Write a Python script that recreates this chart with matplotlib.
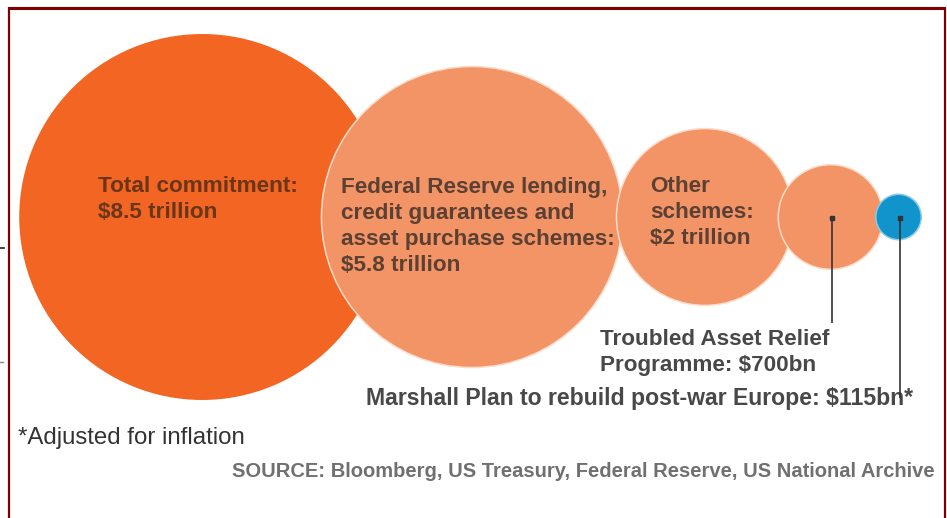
import matplotlib
matplotlib.use("Agg")
import matplotlib.pyplot as plt
from matplotlib.patches import Circle
import numpy as np

# ---- data (USD trillion) ----
names = ["Total commitment", "Federal Reserve", "Other schemes", "TARP", "Marshall Plan"]
values = [8.5, 5.8, 2.0, 0.7, 0.115]
labels = [
    "Total commitment:\n$8.5 trillion",
    "Federal Reserve lending,\ncredit guarantees and\nasset purchase schemes:\n$5.8 trillion",
    "Other\nschemes:\n$2 trillion",
    "Troubled Asset Relief\nProgramme: $700bn",
    "Marshall Plan to rebuild post-war Europe: $115bn*",
]
footnote = "*Adjusted for inflation"
source = "SOURCE: Bloomberg, US Treasury, Federal Reserve, US National Archive"

# ---- style ----
fill = ["#F26522", "#F39466", "#F39466", "#F39466", "#1193CB"]
edge = ["#F26522", "#FCDCC8", "#FCDCC8", "#FCDCC8", "#8CCBE8"]
text_in = ["#6A3519", "#5B4033", "#5B4033"]
overlap = [63, 6, 15, 7]      # px each circle pushes into the previous one
scale = 62.5                  # radius px per sqrt(trillion)
cy = 217
left = 20
fam = ["Liberation Sans", "DejaVu Sans"]

W, H = 947, 518
fig = plt.figure(figsize=(W / 100, H / 100), dpi=100)
ax = fig.add_axes([0, 0, 1, 1])
ax.set_xlim(0, W)
ax.set_ylim(H, 0)
ax.axis("off")

radii = scale * np.sqrt(values)
radii[-1] += 1.5  # the blue dot reads a touch larger than strict area scaling
cx = [left + radii[0]]
for i in range(1, len(values)):
    cx.append(cx[-1] + radii[i - 1] + radii[i] - overlap[i - 1])

for i, (x, r) in enumerate(zip(cx, radii)):
    ax.add_patch(Circle((x, cy), r, facecolor=fill[i], edgecolor=edge[i],
                        linewidth=1.1, zorder=2 + i))

font = dict(family=fam, fontsize=16.2, fontweight="bold", linespacing=1.32)

# labels inside the three big circles
ax.text(98, 176, labels[0], color=text_in[0], va="top", ha="left", zorder=10, **font)
ax.text(341, 177, labels[1], color=text_in[1], va="top", ha="left", zorder=10, **font)
ax.text(650, 176, labels[2], color=text_in[2], va="top", ha="left", zorder=10, **font)

# leader lines for the two small ones
ends = [323, 398]
for x, y_end in zip(cx[3:], ends):
    ax.plot([x + 1, x + 1], [cy + 1, y_end], color="#333333", lw=1.2,
            solid_capstyle="butt", zorder=11)
    ax.plot([x + 1], [cy + 1], marker="s", ms=3.5, color="#333333", zorder=12)

ax.text(600, 329, labels[3], color="#484848", va="top", ha="left", zorder=10, **font)
ax.text(366, 405, labels[4], color="#484848", va="baseline", ha="left", zorder=10,
        family=fam, fontsize=16.55, fontweight="bold")

ax.text(18, 444, footnote, color="#333333", va="baseline", ha="left",
        family=fam, fontsize=17.3)
ax.text(232, 477, source, color="#707070", va="baseline", ha="left",
        family=fam, fontsize=14.5, fontweight="bold")

# frame
frame_c = "#800000"
ax.plot([9, 9], [7, H + 5], color=frame_c, lw=1.6, solid_capstyle="butt", zorder=20)
ax.plot([9, 945], [7.5, 7.5], color=frame_c, lw=2.2, solid_capstyle="butt", zorder=20)
ax.plot([945, 945], [7, H + 5], color=frame_c, lw=1.6, solid_capstyle="butt", zorder=20)

# stray marks on the left edge
ax.plot([0, 4], [248, 248], color="#222222", lw=1.2, zorder=20)
ax.plot([0, 3], [362, 362], color="#888888", lw=1.0, zorder=20)

fig.savefig("out.png", dpi=100)
